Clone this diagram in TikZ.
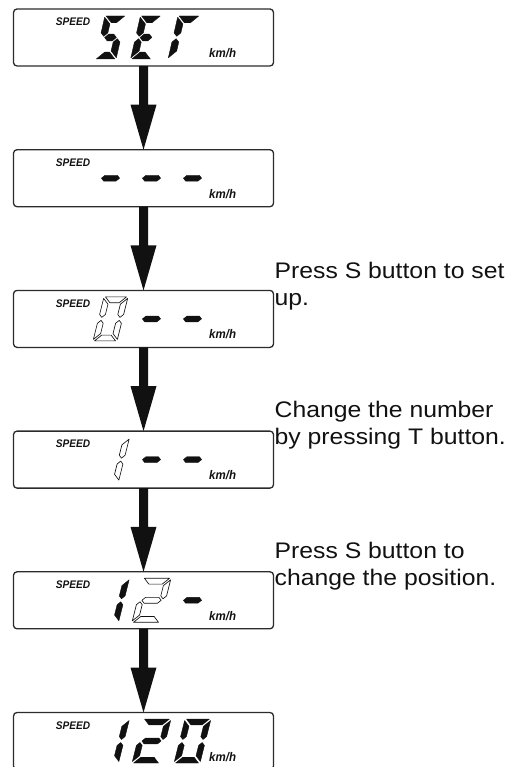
\documentclass[tikz,border=0pt]{standalone}
\usepackage{fontspec}
\setmainfont{Liberation Sans}
\newfontfamily\lblfont[FakeStretch=1.1]{Liberation Sans}
\newfontfamily\lcdfont[FakeStretch=0.92]{Liberation Sans}
\usetikzlibrary{calc}
\definecolor{ink}{HTML}{111111}
\definecolor{lcdline}{HTML}{2B2B2B}
% seven-segment pieces in local (unslanted) digit coordinates
\def\sth{5.8}\def\sgp{1.5}
\newcommand\segA[1]{\path[#1] (-\shw+\sgp,\shh) -- (\shw-\sgp,\shh) -- (\shw-\sgp-\sth,\shh-\sth) -- (-\shw+\sgp+\sth,\shh-\sth) -- cycle;}
\newcommand\segD[1]{\path[#1] (-\shw+\sgp,-\shh) -- (\shw-\sgp,-\shh) -- (\shw-\sgp-\sth,-\shh+\sth) -- (-\shw+\sgp+\sth,-\shh+\sth) -- cycle;}
\newcommand\segF[1]{\path[#1] (-\shw,\shh-\sgp) -- (-\shw+\sth,\shh-\sgp-\sth) -- (-\shw+\sth,\sgp+\sth/2) -- (-\shw+\sth/2,\sgp) -- (-\shw,\sgp+\sth/2) -- cycle;}
\newcommand\segE[1]{\path[#1] (-\shw,-\shh+\sgp) -- (-\shw+\sth,-\shh+\sgp+\sth) -- (-\shw+\sth,-\sgp-\sth/2) -- (-\shw+\sth/2,-\sgp) -- (-\shw,-\sgp-\sth/2) -- cycle;}
\newcommand\segB[1]{\path[#1] (\shw,\shh-\sgp) -- (\shw-\sth,\shh-\sgp-\sth) -- (\shw-\sth,\sgp+\sth/2) -- (\shw-\sth/2,\sgp) -- (\shw,\sgp+\sth/2) -- cycle;}
\newcommand\segC[1]{\path[#1] (\shw,-\shh+\sgp) -- (\shw-\sth,-\shh+\sgp+\sth) -- (\shw-\sth,-\sgp-\sth/2) -- (\shw-\sth/2,-\sgp) -- (\shw,-\sgp-\sth/2) -- cycle;}
\newcommand\segG[1]{\path[#1] (-\shw+\sth/2+\sgp,0) -- (-\shw+\sth+\sgp,\sth/2) -- (\shw-\sth-\sgp,\sth/2) -- (\shw-\sth/2-\sgp,0) -- (\shw-\sth-\sgp,-\sth/2) -- (-\shw+\sth+\sgp,-\sth/2) -- cycle;}
% #1 box, #2 x offset from box centre, #3 width, #4 height, #5 slant, #6 style, #7 segments
\newcommand\lcddigit[7]{%
  \begin{scope}[shift={(#1.center)}]
  \begin{scope}[shift={(#2,0)}, xslant=#5]
    \pgfmathsetmacro\shw{#3/2}\pgfmathsetmacro\shh{#4/2}%
    \foreach \sg in {#7} {\csname seg\sg\endcsname{#6}}%
  \end{scope}
  \end{scope}}
\newcommand\lcdarrow[2]{%
  \fill[ink] let \p1=(#1.south), \p2=(#2.north) in
    (\x1-4.5pt,\y1) -- (\x1-4.5pt,\y2+45pt) -- (\x1-13pt,\y2+45pt) -- (\x2,\y2)
    -- (\x1+13pt,\y2+45pt) -- (\x1+4.5pt,\y2+45pt) -- (\x1+4.5pt,\y1) -- cycle;}
\begin{document}
\begin{tikzpicture}[x=1pt,y=1pt,
  lcd/.style={draw=lcdline, line width=1.3pt, rounded corners=3.5pt,
    minimum width=260pt, minimum height=57pt, inner sep=0pt, outer sep=0pt},
  speedlbl/.style={inner sep=0pt, text=ink,
    font=\lcdfont\bfseries\itshape\fontsize{11}{13}\selectfont},
  kmh/.style={inner sep=0pt, anchor=base west, text=ink,
    font=\lcdfont\bfseries\itshape\fontsize{12.5}{14}\selectfont},
  note/.style={inner sep=0pt, anchor=base west, text=ink,
    font=\lblfont\fontsize{22.5}{27}\selectfont},
  segon/.style={fill=ink, draw=ink, line width=0.4pt, line join=round},
  segoff/.style={draw=ink, line width=0.65pt, line join=round}]
\useasboundingbox (0,0) rectangle (512,-767);
% display boxes
\node[lcd] (b1) at (143.5,-37.5) {};
\node[lcd] (b2) at (143.5,-178.2) {};
\node[lcd] (b3) at (143.5,-318.9) {};
\node[lcd] (b4) at (143.5,-459.6) {};
\node[lcd] (b5) at (143.5,-600.3) {};
\node[lcd] (b6) at (143.5,-741.0) {};
% SPEED and km/h labels
\foreach \b in {1,...,6}{
  \node[speedlbl] (s\b) at ($(b\b.north west)+(59.5,-13)$) {SPEED};
  \node[kmh] (k\b) at ($(b\b.north west)+(195.5,-48.5)$) {km/h};
}
% box 1: SET
\def\sth{6.8}\def\sgp{1.2}
\lcddigit{b1}{-33}{21}{43}{0.23}{segon}{A,F,G,C,D}
\lcddigit{b1}{2.5}{21}{43}{0.23}{segon}{A,F,G,E,D}
\lcddigit{b1}{40.5}{22}{43}{0.23}{segon}{A,F,E}
\def\sth{5.8}\def\sgp{1.5}
% box 2: - - -
\lcddigit{b2}{-33}{27}{44}{0.25}{segon}{G}
\lcddigit{b2}{8}{27}{44}{0.25}{segon}{G}
\lcddigit{b2}{49}{27}{44}{0.25}{segon}{G}
% box 3: 0 - -
\lcddigit{b3}{-33}{24}{44}{0.25}{segoff}{A,B,C,D,E,F}
\lcddigit{b3}{8}{27}{44}{0.25}{segon}{G}
\lcddigit{b3}{49}{27}{44}{0.25}{segon}{G}
% box 4: 1 - -
\lcddigit{b4}{-33}{27}{44}{0.25}{segoff}{B,C}
\lcddigit{b4}{8}{27}{44}{0.25}{segon}{G}
\lcddigit{b4}{49}{27}{44}{0.25}{segon}{G}
% box 5: 1 2 -
\lcddigit{b5}{-33}{27}{44}{0.25}{segon}{B,C}
\lcddigit{b5}{8}{28}{44}{0.25}{segoff}{A,B,G,E,D}
\lcddigit{b5}{49}{27}{44}{0.25}{segon}{G}
% box 6: 1 2 0
\lcddigit{b6}{-33}{27}{44}{0.25}{segon}{B,C}
\lcddigit{b6}{8}{28}{44}{0.25}{segon}{A,B,G,E,D}
\lcddigit{b6}{49}{26}{44}{0.25}{segon}{A,B,C,D,E,F}
% arrows
\lcdarrow{b1}{b2}
\lcdarrow{b2}{b3}
\lcdarrow{b3}{b4}
\lcdarrow{b4}{b5}
\lcdarrow{b5}{b6}
% instructions
\node[note] (t1a) at (274.5,-278) {Press S button to set};
\node[note] (t1b) at (274.5,-305) {up.};
\node[note] (t2a) at (274.5,-417) {Change the number};
\node[note] (t2b) at (274.5,-444) {by pressing T button.};
\node[note] (t3a) at (274.5,-558) {Press S button to};
\node[note] (t3b) at (274.5,-585) {change the position.};
\end{tikzpicture}
\end{document}
